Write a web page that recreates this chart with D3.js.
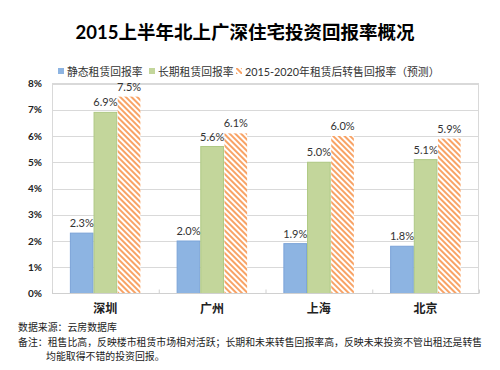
<!DOCTYPE html>
<html>
<head>
<meta charset="utf-8">
<script src="https://cdn.jsdelivr.net/npm/d3@7"></script>
<style>
  body { margin: 0; background: #fff; }
  svg { display: block; font-family: Lato, "Noto Sans CJK SC", sans-serif; }
</style>
</head>
<body>
<div id="chart"></div>
<script>
const cities = ['深圳', '广州', '上海', '北京'];
const seriesNames = ['静态租赁回报率', '长期租赁回报率', '2015-2020年租赁后转售回报率（预测）'];
const staticRate = [2.3, 2.0, 1.9, 1.8];
const longRate = [6.9, 5.6, 5.0, 5.1];
const resaleRate = [7.5, 6.1, 6.0, 5.9];
const yTicks = [0, 1, 2, 3, 4, 5, 6, 7, 8];
const notes = [
    '数据来源：云房数据库',
    '备注：租售比高，反映楼市租赁市场相对活跃；长期和未来转售回报率高，反映未来投资不管出租还是转售',
    '均能取得不错的投资回报。'
];

const width = 500, height = 370;
const margin = {top: 83.5, right: 21, bottom: 76.5, left: 52};
const svg = d3.select('#chart')
    .append('svg')
    .attr('width', width)
    .attr('height', height);

// hatch pattern for the forecast series
const defs = svg.append('defs');
const pat = defs.append('pattern')
    .attr('id', 'hatch')
    .attr('patternUnits', 'userSpaceOnUse')
    .attr('width', 4)
    .attr('height', 4)
    .attr('patternTransform', 'rotate(45)');
pat.append('rect').attr('width', 4).attr('height', 4).attr('fill', '#fff');
pat.append('rect').attr('width', 4).attr('height', 2).attr('fill', '#F8A366');

const fills = ['#8DB4E2', '#C3D69B', 'url(#hatch)'];
const strokes = ['#7BA3D8', '#AFC984', 'none'];

const x0 = d3.scaleBand()
    .domain(cities)
    .range([margin.left, width - margin.right])
    .paddingInner(0.335)
    .paddingOuter(0.1675);
const x1 = d3.scaleBand()
    .domain(d3.range(3))
    .range([0, x0.bandwidth()]);
const y = d3.scaleLinear()
    .domain([0, 8])
    .range([height - margin.bottom, margin.top]);

// Title
svg.append('text')
    .attr('x', 245)
    .attr('y', 39)
    .attr('text-anchor', 'middle')
    .attr('font-size', '18.5px')
    .attr('font-weight', 'bold')
    .attr('fill', '#000')
    .text('2015上半年北上广深住宅投资回报率概况');

// Grid lines
svg.append('g')
    .selectAll('line')
    .data(yTicks.filter(d => d > 0))
    .enter()
    .append('line')
    .attr('x1', margin.left)
    .attr('x2', width - margin.right)
    .attr('y1', d => Math.round(y(d)) + 0.5)
    .attr('y2', d => Math.round(y(d)) + 0.5)
    .attr('stroke', '#D9D9D9')
    .attr('stroke-width', 1);

// Plot frame
svg.append('rect')
    .attr('x', margin.left + 0.5)
    .attr('y', y(8))
    .attr('width', width - margin.right - margin.left - 1)
    .attr('height', y(0) - y(8))
    .attr('fill', 'none')
    .attr('stroke', '#D9D9D9');

// Y axis
const yAxis = svg.append('g')
    .attr('transform', `translate(${margin.left},0)`)
    .call(d3.axisLeft(y).tickValues(yTicks).tickFormat(d => d + '%').tickSize(0).tickPadding(10));
yAxis.select('.domain').remove();
yAxis.selectAll('text')
    .attr('font-size', '10px')
    .attr('font-weight', 'bold')
    .attr('font-family', 'Lato, "Noto Sans CJK SC", sans-serif')
    .attr('fill', '#222');

// Bars
const seriesData = [staticRate, longRate, resaleRate];
const groups = svg.append('g')
    .selectAll('g')
    .data(cities)
    .enter()
    .append('g')
    .attr('transform', d => `translate(${x0(d)},0)`);

groups.each(function(city, ci) {
    const g = d3.select(this);
    const vals = seriesData.map((s, si) => ({si, v: s[ci]}));
    g.selectAll('rect')
        .data(vals)
        .enter()
        .append('rect')
        .attr('x', d => x1(d.si) + 0.5)
        .attr('y', d => y(d.v))
        .attr('width', x1.bandwidth() - 1)
        .attr('height', d => y(0) - y(d.v))
        .attr('fill', d => fills[d.si])
        .attr('stroke', d => strokes[d.si]);
    g.selectAll('text')
        .data(vals)
        .enter()
        .append('text')
        .attr('x', d => x1(d.si) + x1.bandwidth() / 2)
        .attr('y', d => y(d.v) - 6)
        .attr('text-anchor', 'middle')
        .attr('font-size', '11px')
        .attr('fill', '#333')
        .text(d => d.v.toFixed(1) + '%');
});

// X axis
svg.append('line')
    .attr('x1', margin.left)
    .attr('x2', width - margin.right)
    .attr('y1', y(0))
    .attr('y2', y(0))
    .attr('stroke', '#D0D0D0');
const step = x0.step();
svg.append('g')
    .selectAll('line')
    .data(d3.range(cities.length + 1))
    .enter()
    .append('line')
    .attr('x1', i => margin.left + i * step + 0.5)
    .attr('x2', i => margin.left + i * step + 0.5)
    .attr('y1', y(0) - 4)
    .attr('y2', y(0))
    .attr('stroke', '#D0D0D0');
svg.append('g')
    .selectAll('text')
    .data(cities)
    .enter()
    .append('text')
    .attr('x', d => x0(d) + x0.bandwidth() / 2)
    .attr('y', 313)
    .attr('text-anchor', 'middle')
    .attr('font-size', '12px')
    .attr('font-weight', 'bold')
    .attr('fill', '#222')
    .text(d => d);

// Legend
const legendX = [58, 149, 236];
const legend = svg.append('g')
    .selectAll('g')
    .data(seriesNames)
    .enter()
    .append('g')
    .attr('transform', (d, i) => `translate(${legendX[i]},72)`);
legend.append('rect')
    .attr('x', 0)
    .attr('y', -4)
    .attr('width', 6)
    .attr('height', 6)
    .attr('fill', (d, i) => i === 2 ? 'url(#hatch)' : fills[i]);
legend.append('text')
    .attr('x', 9)
    .attr('y', 3.5)
    .attr('font-size', '10.8px')
    .attr('fill', '#333')
    .text(d => d);

// Notes
svg.append('g')
    .selectAll('text')
    .data(notes)
    .enter()
    .append('text')
    .attr('x', (d, i) => i === 2 ? 46 : 18)
    .attr('y', (d, i) => 331 + i * 14.5)
    .attr('font-size', '9.9px')
    .attr('font-family', '"Noto Sans CJK SC", sans-serif')
    .attr('fill', '#222')
    .text(d => d);
</script>
</body>
</html>
